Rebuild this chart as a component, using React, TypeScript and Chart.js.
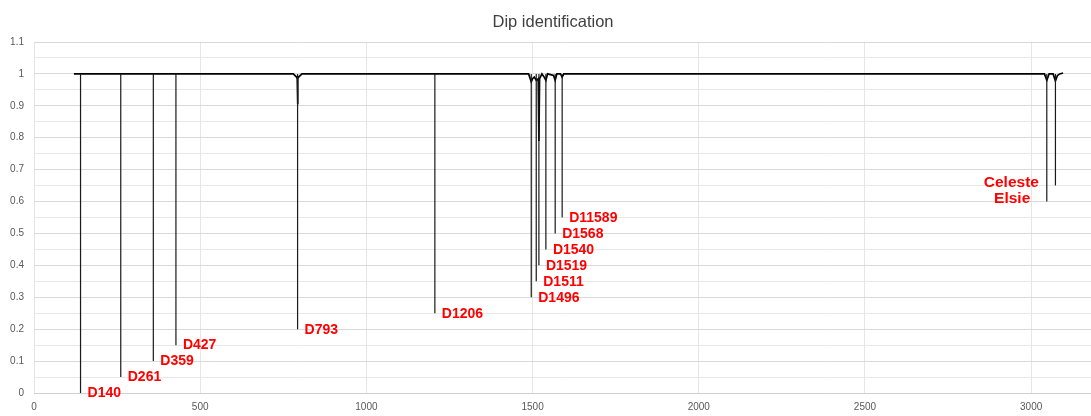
import React, { useEffect, useRef } from "react";
import { Chart, registerables } from "chart.js";

Chart.register(...registerables);

// Light curve (flux vs time)
const curveX = [120, 780, 790, 792, 793, 794, 796, 806, 1488, 1493, 1496, 1500, 1505, 1511, 1517, 1519, 1521, 1528, 1535, 1540, 1545, 1563, 1568, 1573, 1584, 1589, 1594, 3040, 3047, 3054, 3066, 3073, 3079, 3086, 3096];
const curveY = [1, 1, 0.99, 0.985, 0.905, 0.985, 0.99, 1, 1, 0.985, 0.975, 0.985, 0.99, 0.98, 0.985, 0.79, 0.985, 1, 0.99, 0.98, 1, 0.995, 0.98, 1, 1, 0.99, 1, 1, 0.98, 1, 1, 0.978, 0.995, 1, 1.003];

// Identified dips (marker lines)
const dipX = [140, 261, 359, 427, 793, 1206, 1496, 1511, 1519, 1540, 1568, 1589, 3047, 3073];
const dipDepth = [0, 0.05, 0.1, 0.15, 0.2, 0.25, 0.3, 0.35, 0.4, 0.45, 0.5, 0.55, 0.6, 0.65];
const dipLabels = ["D140", "D261", "D359", "D427", "D793", "D1206", "D1496", "D1511", "D1519", "D1540", "D1568", "D11589", "Elsie", "Celeste"];

const titleText = "Dip identification";
const xTickValues = [0, 500, 1000, 1500, 2000, 2500, 3000];

const W = 1091;
const H = 416;

export default function App() {
  const ref = useRef<HTMLCanvasElement | null>(null);

  useEffect(() => {
    document.body.style.margin = "0";
    const canvas = ref.current;
    if (!canvas) return;

    const curveData = curveX.map((x, i) => ({ x, y: curveY[i] }));
    const markerData: { x: number; y: number | null }[] = [];
    dipX.forEach((x, i) => {
      markerData.push({ x, y: 1 });
      markerData.push({ x, y: dipDepth[i] });
      markerData.push({ x, y: null });
    });

    const leftSide = new Set(["Celeste", "Elsie"]);

    const labelPlugin = {
      id: "dipLabels",
      afterDatasetsDraw(chart: any) {
        const ctx = chart.ctx;
        const xs = chart.scales.x;
        const ys = chart.scales.y;
        ctx.save();
        ctx.fillStyle = "#FF0000";
        ctx.textBaseline = "middle";
        dipX.forEach((x, i) => {
          const px = xs.getPixelForValue(x);
          const py = ys.getPixelForValue(dipDepth[i]);
          const name = dipLabels[i];
          if (leftSide.has(name)) {
            ctx.font = "bold 15.5px 'Liberation Sans', Arial, sans-serif";
            ctx.textAlign = "right";
            ctx.fillText(name, px - 16.5, py - 3);
          } else {
            ctx.font = "bold 14px 'Liberation Sans', Arial, sans-serif";
            ctx.textAlign = "left";
            ctx.fillText(name, px + 7, py + 0.5);
          }
        });
        ctx.restore();
      },
    };

    const titlePlugin = {
      id: "customTitle",
      afterDraw(chart: any) {
        const ctx = chart.ctx;
        ctx.save();
        ctx.font = "16.5px 'Liberation Sans', Arial, sans-serif";
        ctx.fillStyle = "#404040";
        ctx.textAlign = "center";
        ctx.textBaseline = "alphabetic";
        ctx.fillText(titleText, 553, 26.5);
        ctx.restore();
      },
    };

    const chart = new Chart(canvas, {
      type: "line",
      data: {
        datasets: [
          {
            label: "Dips",
            data: markerData as any,
            borderColor: "#1a1a1a",
            borderWidth: 1.2,
            pointRadius: 0,
            spanGaps: false,
            tension: 0,
          },
          {
            label: "Flux",
            data: curveData,
            borderColor: "#000000",
            borderWidth: 1.7,
            pointRadius: 0,
            tension: 0,
          },
        ],
      },
      options: {
        responsive: false,
        animation: false,
        devicePixelRatio: 1,
        layout: { padding: { top: 42, left: 0, right: 0, bottom: 0 } },
        plugins: {
          legend: { display: false },
          title: { display: false },
          tooltip: { enabled: false },
        },
        scales: {
          x: {
            type: "linear",
            min: 0,
            max: 3180,
            afterBuildTicks: (scale: any) => {
              scale.ticks = xTickValues.map((v) => ({ value: v }));
            },
            afterFit: (scale: any) => {
              scale.height = 23;
            },
            grid: {
              color: "#e6e6e6",
              lineWidth: 1,
              drawTicks: false,
            },
            border: { display: false },
            ticks: {
              padding: 8,
              color: "#595959",
              font: { family: "'Liberation Sans', Arial, sans-serif", size: 10 },
              maxRotation: 0,
              autoSkip: false,
              callback: (v: any) => String(Math.round(Number(v))),
            },
          },
          y: {
            type: "linear",
            min: 0,
            max: 1.1,
            afterFit: (scale: any) => {
              scale.width = 34;
            },
            grid: {
              color: (c: any) => {
                const v = Math.round(c.tick.value * 100);
                if (v === 0) return "#d0d0d0";
                return v % 10 === 0 ? "#d9d9d9" : "#e8e8e8";
              },
              lineWidth: 1,
              drawTicks: false,
            },
            border: { display: false },
            ticks: {
              stepSize: 0.05,
              padding: 10,
              color: "#595959",
              autoSkip: false,
              font: { family: "'Liberation Sans', Arial, sans-serif", size: 10 },
              callback: (v: any) => {
                const n = Math.round(Number(v) * 100);
                if (n % 10 !== 0) return "";
                return String(n / 100);
              },
            },
          },
        },
      },
      plugins: [labelPlugin, titlePlugin],
    });

    return () => chart.destroy();
  }, []);

  return (
    <div style={{ position: "absolute", left: 0, top: 0, width: W, height: H, background: "#fff" }}>
      <canvas ref={ref} width={W} height={H} style={{ width: W, height: H, display: "block" }} />
    </div>
  );
}
